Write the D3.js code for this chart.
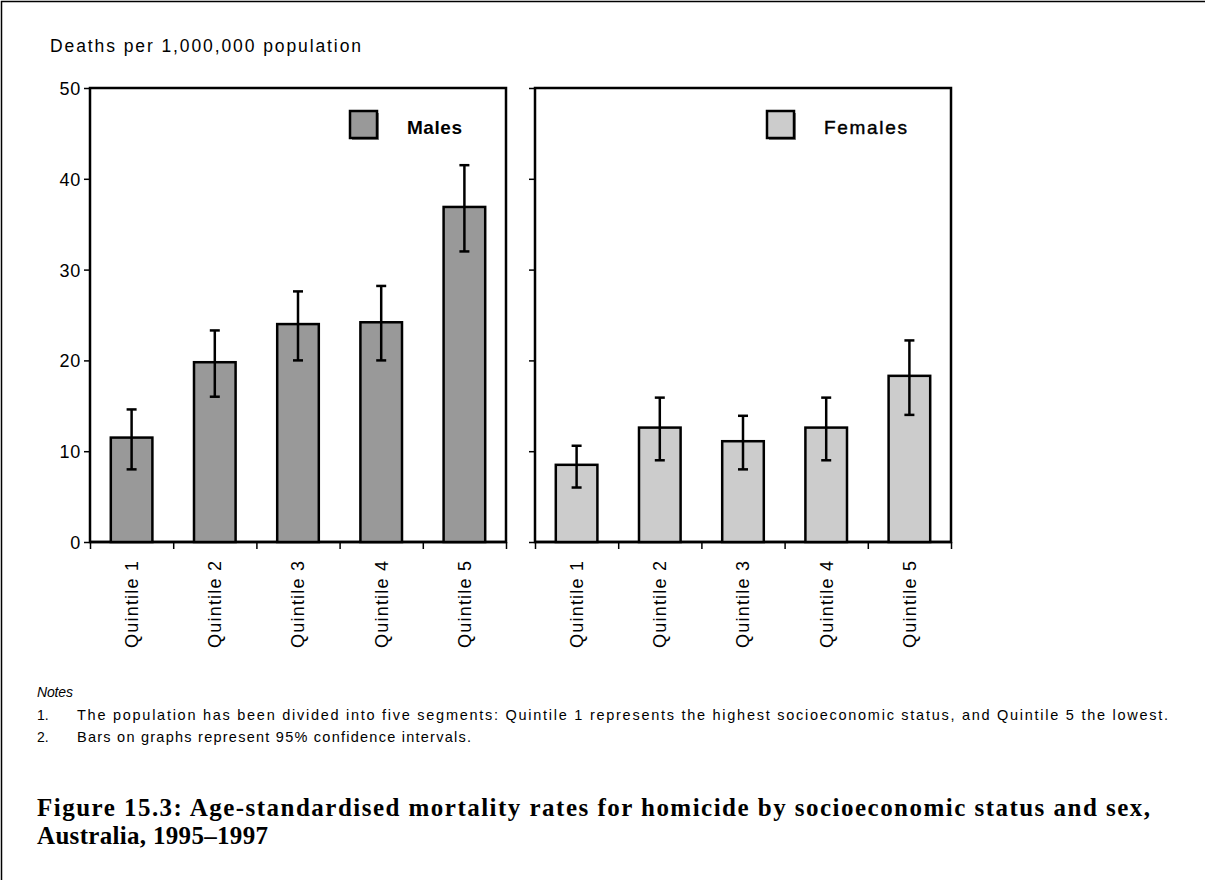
<!DOCTYPE html>
<html>
<head>
<meta charset="utf-8">
<script src="https://cdn.jsdelivr.net/npm/d3@7/dist/d3.min.js"></script>
<style>
  html, body { margin: 0; padding: 0; background: #fff; }
  svg { display: block; }
  text { font-family: "Liberation Sans", Arial, sans-serif; fill: #000; }
</style>
</head>
<body>
<svg id="chart" width="1205" height="880"></svg>
<script>
// ---- Data ----
const categories = ["Quintile 1", "Quintile 2", "Quintile 3", "Quintile 4", "Quintile 5"];
const maleValues = [11.5, 19.8, 24.0, 24.2, 36.9];
const maleLower  = [8.0, 16.0, 20.0, 20.0, 32.0];
const maleUpper  = [14.6, 23.3, 27.6, 28.2, 41.5];
const femaleValues = [8.5, 12.6, 11.1, 12.6, 18.3];
const femaleLower  = [6.0, 9.0, 8.0, 9.0, 14.0];
const femaleUpper  = [10.6, 15.9, 13.9, 15.9, 22.2];
const yTicks = [0, 10, 20, 30, 40, 50];
const seriesNames = ["Males", "Females"];
const yTitle = "Deaths per 1,000,000 population";
const notesHeading = "Notes";
const notes = [
  "The population has been divided into five segments: Quintile 1 represents the highest socioeconomic status, and Quintile 5 the lowest.",
  "Bars on graphs represent 95% confidence intervals."
];
const titleLines = [
  "Figure 15.3: Age-standardised mortality rates for homicide by socioeconomic status and sex,",
  "Australia, 1995\u20131997"
];

const svg = d3.select("#chart");

// outer border (top and left)
svg.append("path")
  .attr("d", "M1.5,880 L1.5,1.5 L1205,1.5")
  .attr("fill", "none").attr("stroke", "#000").attr("stroke-width", 1.5);

const y = d3.scaleLinear().domain([0, 50]).range([542, 88]);

function panel(x0, x1, values, lower, upper, fill, name, legendX, showLabels, bold, legendLen) {
  const g = svg.append("g");
  const x = d3.scaleBand().domain(categories).range([x0, x1]).paddingInner(0.5).paddingOuter(0.25);
  const xEdge = d3.scaleLinear().domain([0, categories.length]).range([x0, x1]);

  // frame
  g.append("rect")
    .attr("x", x0).attr("y", y(50)).attr("width", x1 - x0).attr("height", y(0) - y(50))
    .attr("fill", "none").attr("stroke", "#000").attr("stroke-width", 2.5);

  // y axis
  const yAxis = g.append("g").attr("transform", `translate(${x0},0)`)
    .call(d3.axisLeft(y).tickValues(yTicks).tickSize(6).tickPadding(3)
      .tickFormat(showLabels ? d3.format("d") : () => ""));
  yAxis.select(".domain").remove();
  yAxis.selectAll(".tick line").attr("stroke", "#000").attr("stroke-width", 1.5);
  yAxis.selectAll(".tick text")
    .style("font-family", "'Liberation Sans', Arial, sans-serif")
    .style("font-size", "18px").style("letter-spacing", "0.8px")
    .attr("fill", "#000").attr("dy", "0.36em");

  // x axis ticks at band edges
  const xAxis = g.append("g").attr("transform", `translate(0,${y(0)})`)
    .call(d3.axisBottom(xEdge).tickValues(d3.range(categories.length + 1)).tickSize(7).tickFormat(() => ""));
  xAxis.select(".domain").attr("stroke", "#000").attr("stroke-width", 2.5).attr("d", `M${x0},0H${x1}`);
  xAxis.selectAll(".tick line").attr("stroke", "#000").attr("stroke-width", 1.5);

  // bars
  g.selectAll("rect.bar").data(values).join("rect").attr("class", "bar")
    .attr("x", (d, i) => x(categories[i]))
    .attr("y", d => y(d))
    .attr("width", x.bandwidth())
    .attr("height", d => y(0) - y(d))
    .attr("fill", fill).attr("stroke", "#000").attr("stroke-width", 2.5);

  // error bars
  const cx = i => x(categories[i]) + x.bandwidth() / 2;
  const eg = g.append("g").attr("stroke", "#000").attr("stroke-width", 2.5);
  values.forEach((v, i) => {
    eg.append("line").attr("x1", cx(i)).attr("x2", cx(i)).attr("y1", y(upper[i])).attr("y2", y(lower[i]));
    eg.append("line").attr("x1", cx(i) - 5).attr("x2", cx(i) + 5).attr("y1", y(upper[i])).attr("y2", y(upper[i]));
    eg.append("line").attr("x1", cx(i) - 5).attr("x2", cx(i) + 5).attr("y1", y(lower[i])).attr("y2", y(lower[i]));
  });

  // category labels (rotated)
  g.selectAll("text.cat").data(categories).join("text").attr("class", "cat")
    .attr("transform", d => `translate(${x(d) + x.bandwidth() / 2},561) rotate(-90)`)
    .attr("text-anchor", "end").attr("dy", "0.36em")
    .attr("textLength", 87).attr("lengthAdjust", "spacing")
    .style("font-size", "18px")
    .text(d => d);

  // legend
  const lg = g.append("g");
  lg.append("rect").attr("x", legendX + 2).attr("y", 113).attr("width", 27).attr("height", 27)
    .attr("fill", "#888");
  lg.append("rect").attr("x", legendX).attr("y", 111).attr("width", 27).attr("height", 27)
    .attr("fill", fill).attr("stroke", "#000").attr("stroke-width", 2.5);
  const lt = lg.append("text").attr("x", legendX + 57).attr("y", 134)
    .style("font-size", "19px").style("font-weight", bold ? "bold" : "normal")
    .attr("textLength", legendLen).attr("lengthAdjust", "spacing")
    .text(name);
  if (!bold) lt.attr("stroke", "#000").attr("stroke-width", 0.45);
}

panel(90, 506, maleValues, maleLower, maleUpper, "#999999", seriesNames[0], 350, true, true, 55);
panel(535, 951, femaleValues, femaleLower, femaleUpper, "#cccccc", seriesNames[1], 767, false, false, 83);

// y axis title
svg.append("text").attr("x", 50).attr("y", 52)
  .attr("textLength", 311).attr("lengthAdjust", "spacing")
  .style("font-size", "17.5px")
  .text(yTitle);

// notes
svg.append("text").attr("x", 37).attr("y", 697)
  .style("font-size", "14px").style("font-style", "italic")
  .attr("textLength", 36).attr("lengthAdjust", "spacing")
  .text(notesHeading);
const noteLens = [1091, 394];
notes.forEach((n, i) => {
  const yy = 720 + i * 22;
  svg.append("text").attr("x", 37).attr("y", yy).style("font-size", "14px").text((i + 1) + ".");
  svg.append("text").attr("x", 77).attr("y", yy).style("font-size", "14.5px")
    .attr("textLength", noteLens[i]).attr("lengthAdjust", "spacing")
    .text(n);
});

// figure title
const titleLens = [1113, 231];
titleLines.forEach((t, i) => {
  svg.append("text").attr("x", 37).attr("y", 816 + i * 28)
    .style("font-family", "'Liberation Serif', 'DejaVu Serif', serif")
    .style("font-weight", "bold").style("font-size", "25px")
    .attr("textLength", titleLens[i]).attr("lengthAdjust", "spacing")
    .text(t);
});
</script>
</body>
</html>
